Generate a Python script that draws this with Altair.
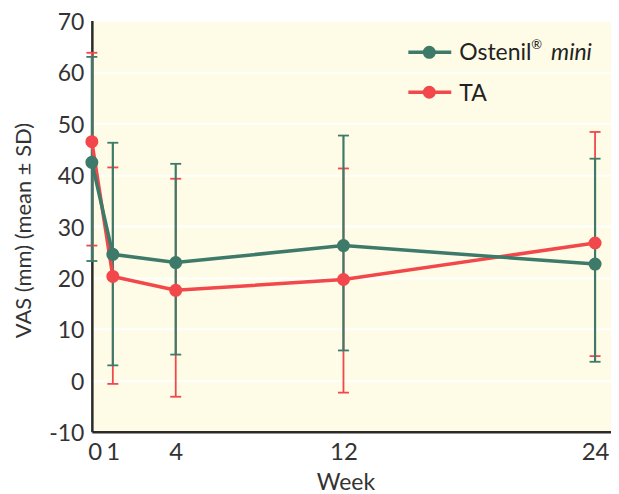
import altair as alt
import pandas as pd

weeks = [0, 1, 4, 12, 24]
series_names = ["Ostenil® mini", "TA"]

ost_mean = [42.4, 24.5, 22.9, 26.2, 22.6]
ost_hi = [62.9, 46.2, 42.1, 47.6, 43.1]
ost_lo = [23.2, 2.9, 5.0, 5.8, 3.6]

ta_mean = [46.4, 20.2, 17.5, 19.6, 26.7]
ta_hi = [63.7, 41.4, 39.2, 41.2, 48.3]
ta_lo = [26.2, -0.7, -3.2, -2.4, 4.7]

y_ticks = [-10, 0, 10, 20, 30, 40, 50, 60, 70]
x_ticks = [0, 1, 4, 12, 24]

GREEN = "#3d7a69"
RED = "#f2474b"
FONT = "Lato"
TXT = "#333333"

rows = []
for name, m, lo, hi in [("TA", ta_mean, ta_lo, ta_hi), ("Ostenil® mini", ost_mean, ost_lo, ost_hi)]:
    for w, a, b, c in zip(weeks, m, lo, hi):
        rows.append({"week": w, "series": name, "mean": a, "lo": b, "hi": c})
df = pd.DataFrame(rows)

color = alt.Color("series:N", scale=alt.Scale(domain=series_names, range=[GREEN, RED]), legend=None)

xs = alt.Scale(domain=[0, 24.76], nice=False, zero=False)
ys = alt.Scale(domain=[-10, 70], nice=False, zero=False)

xaxis = alt.Axis(values=x_ticks, title="Week", grid=False, ticks=False, labelPadding=9,
                 labelFontSize=24, labelColor=TXT, labelFont=FONT,
                 labelOffset={"condition": {"test": "datum.value == 0", "value": -4}, "value": 0},
                 titleFontSize=23, titleFont=FONT, titleColor=TXT, titleFontWeight="normal",
                 titleX=254, titleY=51, titleBaseline="middle",
                 domainColor="#2a2a2a", domainWidth=2.5)
yaxis = alt.Axis(values=y_ticks, title="VAS (mm) (mean ± SD)", grid=True, gridColor="white",
                 gridWidth=2, ticks=False, labelPadding=8, labelFontSize=23, labelColor=TXT,
                 labelFont=FONT, labelOffset=2, labelExpr="'' + datum.value",
                 titleFontSize=22, titleFont=FONT, titleColor=TXT,
                 titleFontWeight="normal", titleX=-68, titleY=210, titleAngle=-90,
                 titleAlign="center", titleBaseline="middle",
                 domainColor="#2a2a2a", domainWidth=2.5)

base = alt.Chart(df)

layers = []
for name, w in [("TA", 1.8), ("Ostenil® mini", 2.2)]:
    sub = base.transform_filter(alt.datum.series == name)
    rule = sub.mark_rule(strokeWidth=w, opacity=1).encode(
        x=alt.X("week:Q", scale=xs, axis=xaxis),
        y=alt.Y("lo:Q", scale=ys, axis=yaxis),
        y2="hi:Q",
        color=color,
    )
    cap_hi = sub.mark_tick(orient="horizontal", size=11, thickness=1.8, opacity=1).encode(
        x=alt.X("week:Q", scale=xs), y=alt.Y("hi:Q", scale=ys), color=color)
    cap_lo = sub.mark_tick(orient="horizontal", size=11, thickness=1.8, opacity=1).encode(
        x=alt.X("week:Q", scale=xs), y=alt.Y("lo:Q", scale=ys), color=color)
    layers += [rule, cap_hi, cap_lo]

for name in ["TA", "Ostenil® mini"]:
    sub = base.transform_filter(alt.datum.series == name)
    line = sub.mark_line(strokeWidth=3.5).encode(
        x=alt.X("week:Q", scale=xs), y=alt.Y("mean:Q", scale=ys), color=color)
    pts = sub.mark_circle(size=170, opacity=1).encode(
        x=alt.X("week:Q", scale=xs), y=alt.Y("mean:Q", scale=ys), color=color)
    layers += [line, pts]

# manual legend
leg = pd.DataFrame({"series": series_names})
for i, (name, col) in enumerate(zip(series_names, [GREEN, RED])):
    yy = 32 + i * 40
    d = alt.Chart(leg).transform_filter(alt.datum.series == name)
    layers.append(d.mark_rule(strokeWidth=3.5, color=col).encode(
        x=alt.value(317), x2=alt.value(360), y=alt.value(yy)))
    layers.append(d.mark_circle(size=170, opacity=1, color=col).encode(
        x=alt.value(338), y=alt.value(yy)))

lt = alt.Chart(leg.head(1))
layers.append(lt.mark_text(text="Ostenil", font=FONT, fontSize=23, color="#222222",
                           align="left", baseline="middle").encode(x=alt.value(368), y=alt.value(33)))
layers.append(lt.mark_text(text="®", font=FONT, fontSize=13, color="#222222",
                           align="left", baseline="middle").encode(x=alt.value(440), y=alt.value(25)))
layers.append(lt.mark_text(text="mini", font=FONT, fontSize=23, fontStyle="italic", color="#222222",
                           align="left", baseline="middle").encode(x=alt.value(460), y=alt.value(33)))
layers.append(lt.mark_text(text="TA", font=FONT, fontSize=23, color="#222222",
                           align="left", baseline="middle").encode(x=alt.value(368), y=alt.value(74)))

chart = alt.layer(*layers).properties(
    width=520, height=412,
    background="white",
    autosize=alt.AutoSizeParams(type="none"),
    padding={"left": 84, "top": 12, "right": 0, "bottom": 62},
).configure_view(fill="#fefce6", stroke=None)

chart.save("out.html", embed_options={"renderer": "svg", "actions": False})
